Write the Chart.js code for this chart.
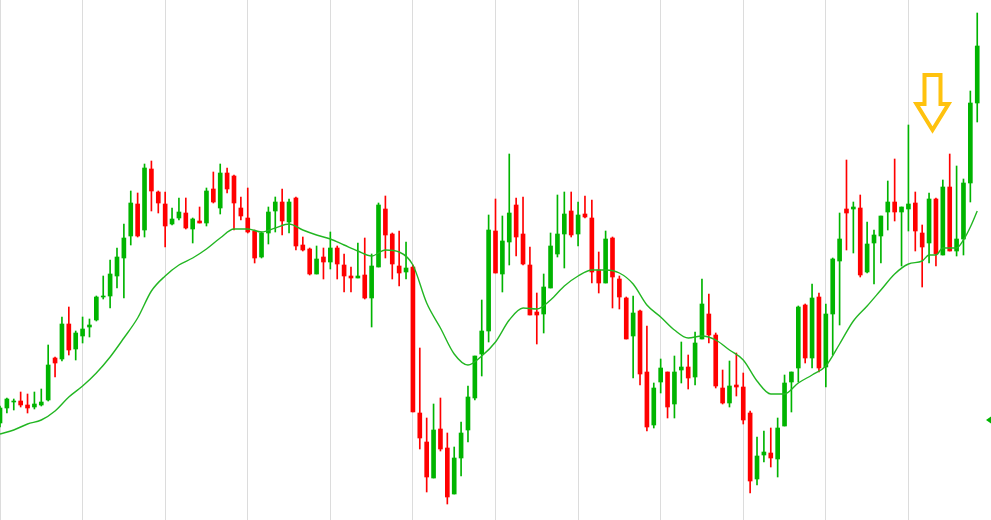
<!DOCTYPE html>
<html>
<head>
<meta charset="utf-8">
<script src="https://cdn.jsdelivr.net/npm/chart.js@4.4.0/dist/chart.umd.min.js"></script>
<style>
  html, body { margin: 0; padding: 0; background: #fff; }
  #wrap { width: 991px; height: 520px; }
</style>
</head>
<body>
<div id="wrap"><canvas id="chart"></canvas></div>
<script>
// one slot per session, the last two slots stay empty
var labels = Array.from({ length: 145 }, (_, i) => i);

var open = [
  109.7,111.2,111.8,111.9,111.5,111.3,111.5,112.0,116.2,116.1,
  119.6,117.1,118.4,119.3,120.0,122.3,122.4,124.4,126.2,128.4,
  131.6,129.0,135.1,132.8,131.6,129.6,130.2,130.7,129.1,129.9,
  129.7,133.1,131.2,134.7,134.4,131.2,130.2,128.9,126.3,128.7,
  130.9,131.8,129.8,132.2,127.5,127.1,124.6,126.3,125.8,127.2,
  125.5,124.4,124.2,124.5,122.2,125.3,131.1,128.6,125.4,124.8,
  125.3,110.7,107.8,104.2,109.1,107.2,102.6,106.2,109.0,112.2,
  116.6,118.9,128.9,124.6,127.8,131.5,128.6,125.5,120.8,120.6,
  123.2,126.6,128.6,130.9,128.6,130.6,130.2,125.0,123.7,128.2,
  124.1,122.2,118.4,120.9,114.8,109.5,113.8,114.8,111.6,115.0,
  115.3,114.3,118.1,120.6,118.5,113.2,111.7,113.5,113.3,110.7,
  104.1,106.5,106.7,106.1,109.4,113.8,115.2,121.5,116.2,122.3,
  115.3,120.6,125.9,131.1,131.1,131.2,124.8,127.7,128.4,130.8,
  131.8,130.8,131.1,131.7,128.7,127.7,132.1,126.5,133.3,126.9,
  128.1,133.7,141.7
];
var high = [
  111.4,112.2,112.1,112.8,112.6,112.8,113.1,117.5,116.3,120.3,
  121.3,118.9,120.3,120.1,122.4,124.4,126.0,127.2,129.6,132.9,
  132.7,135.6,135.9,132.9,132.8,131.2,132.2,132.2,130.2,131.3,
  133.2,134.8,135.6,135.2,134.5,132.3,133.2,129.0,128.8,131.3,
  132.3,133.1,132.1,132.3,128.3,127.2,127.4,127.2,128.8,127.4,
  126.6,125.3,127.7,128.2,126.6,131.7,132.4,128.7,128.9,127.8,
  125.5,117.2,110.2,111.6,112.2,108.7,107.3,109.8,113.4,116.4,
  122.0,130.5,132.1,130.4,136.6,132.2,132.3,127.3,122.7,124.6,
  128.7,132.5,132.8,132.8,131.8,132.4,132.0,126.8,128.9,128.3,
  124.4,122.3,122.4,121.0,119.4,113.7,116.1,114.8,116.4,117.8,
  116.5,118.8,124.1,122.6,118.7,115.0,115.9,116.7,114.7,110.9,
  108.3,108.9,109.2,110.2,114.5,114.8,121.4,121.6,123.6,122.7,
  121.6,126.2,130.7,136.0,131.8,132.5,129.8,129.0,130.4,133.9,
  136.1,131.3,139.5,132.8,129.5,132.7,132.2,134.0,136.6,135.4,
  134.1,142.9,150.7
];
var low = [
  109.3,110.7,111.0,111.3,110.7,111.1,111.4,111.9,114.3,115.9,
  116.5,116.0,117.7,118.3,119.9,122.1,121.2,123.2,122.2,127.5,
  128.3,128.3,130.9,130.7,127.3,129.5,130.0,129.1,127.7,129.7,
  129.4,131.7,130.6,132.7,129.0,130.0,128.7,125.7,126.2,127.6,
  128.8,128.5,128.7,127.0,126.9,124.5,124.6,124.1,125.1,124.1,
  122.8,122.8,124.2,122.1,119.3,125.3,126.2,124.1,123.4,124.1,
  110.8,107.1,102.8,104.2,106.9,101.6,102.6,104.4,107.8,112.0,
  114.4,117.8,124.7,122.8,125.5,126.4,125.5,120.5,117.6,118.7,
  123.2,126.3,125.2,128.3,127.4,130.2,123.7,122.7,123.7,121.2,
  121.1,118.1,114.2,113.5,108.9,109.2,112.7,110.2,110.2,113.7,
  113.1,113.5,118.1,117.7,113.2,111.6,111.3,112.4,109.6,102.7,
  103.5,105.8,105.3,104.3,109.4,110.8,113.8,115.7,115.2,114.8,
  113.3,116.5,119.5,127.0,126.7,124.3,124.7,123.6,125.7,129.0,
  129.9,125.4,128.9,126.9,123.3,125.7,125.4,126.5,126.9,126.4,
  126.5,131.8,139.8
];
var close = [
  111.2,112.1,111.9,111.5,111.2,111.6,111.8,115.5,115.7,119.6,
  117.0,118.7,119.1,119.5,122.3,122.4,124.6,126.3,128.2,131.7,
  128.4,135.2,132.9,131.7,129.4,130.1,130.8,129.2,130.1,129.7,
  132.9,131.8,134.7,133.1,131.7,130.4,128.8,126.2,128.7,130.8,
  131.8,129.9,131.8,127.4,127.0,124.6,126.1,125.8,127.2,125.6,
  124.4,124.2,124.4,122.2,125.4,131.5,128.5,125.6,124.7,125.2,
  110.8,108.2,104.3,109.0,107.1,102.3,106.2,108.7,112.3,116.4,
  118.9,129.0,124.7,127.9,130.7,128.3,125.6,120.5,120.5,123.3,
  127.4,128.6,130.6,128.5,130.5,130.3,124.8,123.7,128.1,124.3,
  122.3,118.1,120.7,114.6,109.3,113.2,115.2,111.3,114.8,115.3,
  114.2,117.7,121.6,118.5,113.4,111.7,113.4,113.3,110.0,103.9,
  106.4,106.8,106.2,109.2,113.7,114.8,121.3,116.2,122.2,115.2,
  120.6,126.1,128.1,130.7,131.3,124.5,127.6,128.5,130.4,131.8,
  130.8,131.3,131.6,128.9,127.3,132.1,126.6,133.3,126.9,128.1,
  133.7,141.7,147.4
];

// moving average at every other session
var maIndex = [
  0,2,4,6,8,10,12,14,16,18,20,22,24,26,28,30,32,34,36,38,
  40,42,44,46,48,50,52,54,56,58,60,62,64,66,68,70,72,74,76,78,
  80,82,84,86,88,90,92,94,96,98,100,102,104,106,108,110,112,114,116,118,
  120,122,124,126,128,130,132,134,135,136,137,138,139,140,141,142
];
var maValue = [
  108.6,109.0,109.6,110.0,110.9,112.3,113.4,114.7,116.3,118.2,
  120.2,122.9,124.4,125.5,126.2,127.1,128.2,129.1,129.1,128.8,
  129.2,129.6,129.0,128.5,128.1,127.5,126.9,126.4,127.0,126.8,
  125.5,121.7,119.2,116.6,115.5,116.4,117.8,120.0,121.2,121.1,
  122.0,123.4,124.4,125.0,125.0,124.7,123.6,121.5,120.3,119.0,
  118.2,118.4,118.0,117.0,116.0,113.9,112.6,112.6,113.7,114.5,
  115.4,117.6,119.9,121.4,123.0,124.6,125.6,125.9,126.5,126.5,
  127.2,127.2,127.2,128.0,129.3,130.9
];

// annotations
var arrowAt = 135.5;
var arrowTop = 144.5, arrowNeck = 141.6, arrowTip = 139.0;
var markerLevel = 110.0;

var up = '#00b400';
var down = '#ff0000';
var candleColors = open.map((o, i) => close[i] >= o ? up : down);

var overlay = {
  id: 'overlay',
  afterDatasetsDraw(chart) {
    var ctx = chart.ctx, x = chart.scales.x, y = chart.scales.y;
    var cx = x.getPixelForValue(arrowAt);
    var top = y.getPixelForValue(arrowTop);
    var neck = y.getPixelForValue(arrowNeck);
    var tip = y.getPixelForValue(arrowTip);
    ctx.save();
    ctx.beginPath();
    ctx.moveTo(cx - 8, top);
    ctx.lineTo(cx + 8, top);
    ctx.lineTo(cx + 8, neck);
    ctx.lineTo(cx + 16, neck);
    ctx.lineTo(cx, tip);
    ctx.lineTo(cx - 16, neck);
    ctx.lineTo(cx - 8, neck);
    ctx.closePath();
    ctx.strokeStyle = '#ffc20e';
    ctx.lineWidth = 4;
    ctx.lineJoin = 'miter';
    ctx.stroke();

    // last price marker on the right edge
    var right = chart.chartArea.right;
    var my = y.getPixelForValue(markerLevel);
    ctx.fillStyle = up;
    ctx.beginPath();
    ctx.moveTo(right - 5, my);
    ctx.lineTo(right, my - 3.5);
    ctx.lineTo(right, my + 3.5);
    ctx.closePath();
    ctx.fill();
    ctx.restore();
  }
};

var config = {
  type: 'bar',
  data: {
    labels: labels,
    datasets: [
      {
        type: 'line',
        data: maIndex.map((k, j) => ({ x: k, y: maValue[j] })),
        borderColor: '#22b622',
        borderWidth: 1.4,
        pointRadius: 0,
        cubicInterpolationMode: 'monotone',
        order: 0
      },
      {
        data: open.map((o, i) => [o, close[i]]),
        backgroundColor: candleColors,
        barThickness: 4,
        grouped: false,
        order: 1
      },
      {
        data: low.map((l, i) => [l, high[i]]),
        backgroundColor: candleColors,
        barThickness: 1,
        grouped: false,
        order: 2
      }
    ]
  },
  options: {
    responsive: true,
    maintainAspectRatio: false,
    animation: false,
    layout: { padding: 0 },
    plugins: {
      legend: { display: false },
      tooltip: { enabled: false }
    },
    scales: {
      x: {
        offset: false,
        grid: {
          offset: false,
          drawTicks: false,
          color: (c) => c.index % 12 === 0 ? '#dcdcdc' : 'rgba(0,0,0,0)',
          lineWidth: 1
        },
        border: { display: false },
        ticks: { display: false }
      },
      y: {
        display: false,
        min: 100,
        max: 152
      }
    }
  },
  plugins: [overlay]
};

var graph = new Chart(document.getElementById('chart'), config);
</script>
</body>
</html>
